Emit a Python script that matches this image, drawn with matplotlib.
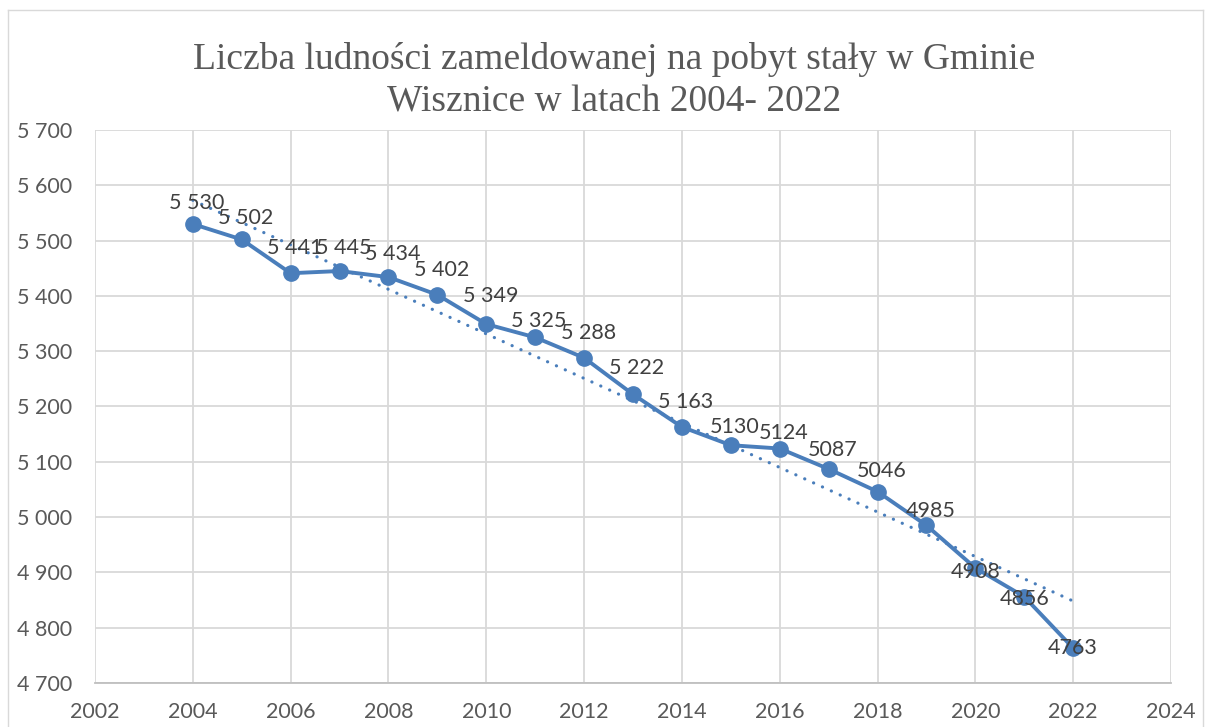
import matplotlib
matplotlib.use("Agg")
import matplotlib.pyplot as plt
from matplotlib.ticker import FuncFormatter, MultipleLocator
from matplotlib.lines import Line2D
import numpy as np

years = [2004, 2005, 2006, 2007, 2008, 2009, 2010, 2011, 2012, 2013,
         2014, 2015, 2016, 2017, 2018, 2019, 2020, 2021, 2022]
population = [5530, 5502, 5441, 5445, 5434, 5402, 5349, 5325, 5288, 5222,
              5163, 5130, 5124, 5087, 5046, 4985, 4908, 4856, 4763]
data_labels = ["5 530", "5 502", "5 441", "5 445", "5 434", "5 402", "5 349",
               "5 325", "5 288", "5 222", "5 163", "5130", "5124", "5087",
               "5046", "4985", "4908", "4856", "4763"]
title = "Liczba ludności zameldowanej na pobyt stały w Gminie\nWisznice w latach 2004- 2022"

# label offsets in pixels (layout only)
label_dx = [4] * 16 + [0, 0, 0]
label_dy = [21, 21, 25, 23, 23, 25, 28, 16, 25, 26, 25, 18, 16, 19, 21, 14, -4, -2, 0]

W, H = 1205, 727
fig = plt.figure(figsize=(W / 100, H / 100), dpi=100)
fig.patch.set_facecolor("white")

# outer chart border
bc = "#D9D9D9"
fig.add_artist(Line2D([8 / W, 8 / W], [0, 1 - 10 / H], transform=fig.transFigure, color=bc, lw=1.0))
fig.add_artist(Line2D([8 / W, 1 - 2 / W], [1 - 10 / H, 1 - 10 / H], transform=fig.transFigure, color=bc, lw=1.0))
fig.add_artist(Line2D([1 - 2 / W, 1 - 2 / W], [0, 1 - 10 / H], transform=fig.transFigure, color=bc, lw=1.0))

left, right, top, bottom = 95, 1171, 130, 683
ax = fig.add_axes([left / W, 1 - bottom / H, (right - left) / W, (bottom - top) / H])

blue = "#4A7EBB"
grid = "#D9D9D9"
txt = "#595959"

ax.set_xlim(2002, 2024)
ax.set_ylim(4700, 5700)
ax.xaxis.set_major_locator(MultipleLocator(2))
ax.yaxis.set_major_locator(MultipleLocator(100))
ax.yaxis.set_major_formatter(FuncFormatter(lambda v, p: f"{v:,.0f}".replace(",", " ")))
ax.xaxis.set_major_formatter(FuncFormatter(lambda v, p: f"{v:.0f}"))
ax.grid(True, color=grid, lw=1.3)
ax.set_axisbelow(True)
for s in ["top", "right", "left"]:
    ax.spines[s].set_visible(False)
ax.spines["bottom"].set_color("#BFBFBF")
ax.spines["bottom"].set_linewidth(1.3)
ax.tick_params(length=0, labelsize=15.5, labelcolor=txt)
for lab in ax.get_xticklabels() + ax.get_yticklabels():
    lab.set_fontfamily("Lato")
ax.tick_params(axis="y", pad=16.5)
ax.tick_params(axis="x", pad=14)

# trendline (linear)
coef = np.polyfit(years, population, 1)
tx = np.array([years[0], years[-1]])
ax.plot(tx, np.polyval(coef, tx), color=blue, lw=2.3, ls=(0, (0.05, 3.0)),
        dash_capstyle="round", zorder=2)

ax.plot(years, population, color=blue, lw=2.8, marker="o", markersize=11,
        zorder=3)

for x, y, s, dx, dy in zip(years, population, data_labels, label_dx, label_dy):
    ax.annotate(s, (x, y), xytext=(dx * 0.72, dy * 0.72), textcoords="offset points",
                ha="center", va="center", fontsize=15.5, color="#404040",
                family="Lato", zorder=4)

fig.text(614 / W, 1 - 81 / H, title, ha="center", va="center", fontsize=27,
         color=txt, family="Liberation Serif", linespacing=1.3)

fig.savefig("out.png", dpi=100)
